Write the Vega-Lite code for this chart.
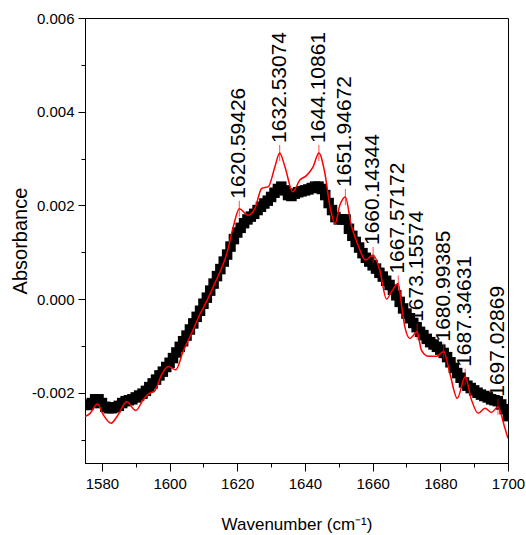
{
  "$schema": "https://vega.github.io/schema/vega-lite/v6.json",
  "width": 423,
  "height": 445,
  "autosize": "none",
  "padding": {"left": 85, "top": 18, "right": 18, "bottom": 72},
  "background": "white",
  "config": {
    "view": {"stroke": "black", "strokeWidth": 1},
    "axis": {"grid": false, "domainColor": "black", "tickColor": "black", "labelColor": "black", "titleColor": "black", "labelFont": "Liberation Sans", "titleFont": "Liberation Sans", "titleFontWeight": "normal", "labelFontSize": 15, "tickWidth": 1, "domainWidth": 1}
  },
  "datasets": {
    "black": [
      {"w": 1575, "a": -0.00226}, {"w": 1576, "a": -0.00226}, {"w": 1577, "a": -0.00222}, {"w": 1578, "a": -0.00214},
      {"w": 1579, "a": -0.00214}, {"w": 1580, "a": -0.00222}, {"w": 1581, "a": -0.0023}, {"w": 1582, "a": -0.00233},
      {"w": 1583, "a": -0.00233}, {"w": 1584, "a": -0.00231}, {"w": 1585, "a": -0.00228}, {"w": 1586, "a": -0.00222},
      {"w": 1587, "a": -0.00218}, {"w": 1588, "a": -0.00216}, {"w": 1589, "a": -0.00214}, {"w": 1590, "a": -0.0021},
      {"w": 1591, "a": -0.00206}, {"w": 1592, "a": -0.00202}, {"w": 1593, "a": -0.00196}, {"w": 1594, "a": -0.00188},
      {"w": 1595, "a": -0.0018}, {"w": 1596, "a": -0.00172}, {"w": 1597, "a": -0.00163}, {"w": 1598, "a": -0.00155},
      {"w": 1599, "a": -0.00145}, {"w": 1600, "a": -0.00136}, {"w": 1601, "a": -0.00126}, {"w": 1602, "a": -0.00114},
      {"w": 1603, "a": -0.00102}, {"w": 1604, "a": -0.0009}, {"w": 1605, "a": -0.00078}, {"w": 1606, "a": -0.00065},
      {"w": 1607, "a": -0.00052}, {"w": 1608, "a": -0.00038}, {"w": 1609, "a": -0.00025}, {"w": 1610, "a": -0.0001},
      {"w": 1611, "a": 0.00003}, {"w": 1612, "a": 0.00018}, {"w": 1613, "a": 0.00033}, {"w": 1614, "a": 0.00049},
      {"w": 1615, "a": 0.00064}, {"w": 1616, "a": 0.0008}, {"w": 1617, "a": 0.00095}, {"w": 1618, "a": 0.00112},
      {"w": 1619, "a": 0.00128}, {"w": 1620, "a": 0.00142}, {"w": 1621, "a": 0.00152}, {"w": 1622, "a": 0.00162},
      {"w": 1623, "a": 0.0017}, {"w": 1624, "a": 0.00176}, {"w": 1625, "a": 0.00182}, {"w": 1626, "a": 0.0019},
      {"w": 1627, "a": 0.00197}, {"w": 1628, "a": 0.00204}, {"w": 1629, "a": 0.0021}, {"w": 1630, "a": 0.00218},
      {"w": 1631, "a": 0.00227}, {"w": 1632, "a": 0.00235}, {"w": 1633, "a": 0.0024}, {"w": 1634, "a": 0.00232},
      {"w": 1635, "a": 0.00222}, {"w": 1636, "a": 0.0022}, {"w": 1637, "a": 0.00225}, {"w": 1638, "a": 0.00228},
      {"w": 1639, "a": 0.0023}, {"w": 1640, "a": 0.00232}, {"w": 1641, "a": 0.00234}, {"w": 1642, "a": 0.00237},
      {"w": 1643, "a": 0.0024}, {"w": 1644, "a": 0.0024}, {"w": 1645, "a": 0.00235}, {"w": 1646, "a": 0.00222},
      {"w": 1647, "a": 0.00205}, {"w": 1648, "a": 0.0019}, {"w": 1649, "a": 0.00175}, {"w": 1650, "a": 0.0017},
      {"w": 1651, "a": 0.0017}, {"w": 1652, "a": 0.0017}, {"w": 1653, "a": 0.0015}, {"w": 1654, "a": 0.00135},
      {"w": 1655, "a": 0.00122}, {"w": 1656, "a": 0.0011}, {"w": 1657, "a": 0.00098}, {"w": 1658, "a": 0.00088},
      {"w": 1659, "a": 0.0008}, {"w": 1660, "a": 0.00072}, {"w": 1661, "a": 0.00065}, {"w": 1662, "a": 0.00056},
      {"w": 1663, "a": 0.00048}, {"w": 1664, "a": 0.00039}, {"w": 1665, "a": 0.0003}, {"w": 1666, "a": 0.0002},
      {"w": 1667, "a": 0.00008}, {"w": 1668, "a": -0.00006}, {"w": 1669, "a": -0.0002}, {"w": 1670, "a": -0.00031},
      {"w": 1671, "a": -0.00041}, {"w": 1672, "a": -0.00051}, {"w": 1673, "a": -0.0006}, {"w": 1674, "a": -0.0007},
      {"w": 1675, "a": -0.00077}, {"w": 1676, "a": -0.00085}, {"w": 1677, "a": -0.00092}, {"w": 1678, "a": -0.00097},
      {"w": 1679, "a": -0.00102}, {"w": 1680, "a": -0.00108}, {"w": 1681, "a": -0.00115}, {"w": 1682, "a": -0.00124},
      {"w": 1683, "a": -0.00135}, {"w": 1684, "a": -0.00147}, {"w": 1685, "a": -0.00158}, {"w": 1686, "a": -0.00168},
      {"w": 1687, "a": -0.00178}, {"w": 1688, "a": -0.00185}, {"w": 1689, "a": -0.0019}, {"w": 1690, "a": -0.00195},
      {"w": 1691, "a": -0.002}, {"w": 1692, "a": -0.00204}, {"w": 1693, "a": -0.00207}, {"w": 1694, "a": -0.0021},
      {"w": 1695, "a": -0.00214}, {"w": 1696, "a": -0.00216}, {"w": 1697, "a": -0.00218}, {"w": 1698, "a": -0.00225},
      {"w": 1699, "a": -0.00235}, {"w": 1700, "a": -0.0025}
    ],
    "red": [
      {"w": 1575, "a": -0.00251}, {"w": 1576.5, "a": -0.00244}, {"w": 1578.7, "a": -0.00224}, {"w": 1580.4, "a": -0.00247},
      {"w": 1582.7, "a": -0.00265}, {"w": 1584.8, "a": -0.00247}, {"w": 1587.3, "a": -0.00219}, {"w": 1590, "a": -0.00238},
      {"w": 1592.2, "a": -0.00215}, {"w": 1593.7, "a": -0.00203}, {"w": 1595.7, "a": -0.00195}, {"w": 1597.6, "a": -0.00162},
      {"w": 1599.6, "a": -0.00144}, {"w": 1601.8, "a": -0.00151}, {"w": 1604, "a": -0.00112}, {"w": 1606.5, "a": -0.00073},
      {"w": 1609, "a": -0.00032}, {"w": 1611, "a": -0.00004}, {"w": 1612.9, "a": 0.00026}, {"w": 1615, "a": 0.0006},
      {"w": 1616.9, "a": 0.00097}, {"w": 1618.8, "a": 0.00154}, {"w": 1620.59, "a": 0.00193}, {"w": 1623.2, "a": 0.00179},
      {"w": 1625.2, "a": 0.00193}, {"w": 1627.2, "a": 0.00236}, {"w": 1629.2, "a": 0.0024}, {"w": 1631.1, "a": 0.00282},
      {"w": 1632.53, "a": 0.00312}, {"w": 1634.1, "a": 0.00282}, {"w": 1636.4, "a": 0.00229}, {"w": 1638.5, "a": 0.00254},
      {"w": 1640.5, "a": 0.00264}, {"w": 1642.4, "a": 0.00282}, {"w": 1644.11, "a": 0.00312}, {"w": 1645.9, "a": 0.00268},
      {"w": 1647.4, "a": 0.00197}, {"w": 1648.9, "a": 0.00161}, {"w": 1650.3, "a": 0.002}, {"w": 1651.95, "a": 0.00218},
      {"w": 1653.6, "a": 0.0016}, {"w": 1655.7, "a": 0.00115}, {"w": 1657.9, "a": 0.00083}, {"w": 1660.14, "a": 0.00094},
      {"w": 1662.1, "a": 0.00062}, {"w": 1664.1, "a": 0.0}, {"w": 1665.6, "a": 0.00016}, {"w": 1667.57, "a": 0.00033},
      {"w": 1668.6, "a": -0.00016}, {"w": 1669.5, "a": -0.00059}, {"w": 1671, "a": -0.00084}, {"w": 1673.16, "a": -0.0007},
      {"w": 1674.4, "a": -0.00109}, {"w": 1676.4, "a": -0.00122}, {"w": 1678.9, "a": -0.00122}, {"w": 1680.99, "a": -0.00112},
      {"w": 1682.8, "a": -0.00158}, {"w": 1685, "a": -0.00212}, {"w": 1687.35, "a": -0.00166}, {"w": 1689.2, "a": -0.00215},
      {"w": 1691.2, "a": -0.00244}, {"w": 1693.2, "a": -0.00233}, {"w": 1695.1, "a": -0.00242}, {"w": 1697.03, "a": -0.0023},
      {"w": 1699.1, "a": -0.00276}, {"w": 1700, "a": -0.00297}
    ],
    "peaks": [
      {"w": 1620.59426, "a": 0.00193, "label": "1620.59426"},
      {"w": 1632.53074, "a": 0.00312, "label": "1632.53074"},
      {"w": 1644.10861, "a": 0.00312, "label": "1644.10861"},
      {"w": 1651.94672, "a": 0.00218, "label": "1651.94672"},
      {"w": 1660.14344, "a": 0.00094, "label": "1660.14344"},
      {"w": 1667.57172, "a": 0.00033, "label": "1667.57172"},
      {"w": 1673.15574, "a": -0.0007, "label": "1673.15574"},
      {"w": 1680.99385, "a": -0.00112, "label": "1680.99385"},
      {"w": 1687.34631, "a": -0.00166, "label": "1687.34631"},
      {"w": 1697.02869, "a": -0.0023, "label": "1697.02869"}
    ]
  },
  "encoding": {
    "x": {
      "field": "w", "type": "quantitative",
      "scale": {"domain": [1575, 1700], "nice": false, "zero": false},
      "axis": {
        "title": "Wavenumber (cm⁻¹)",
        "titleFontSize": 17,
        "titleBaseline": "alphabetic",
        "titleY": 66,
        "values": [1580, 1590, 1600, 1610, 1620, 1630, 1640, 1650, 1660, 1670, 1680, 1690, 1700],
        "labelExpr": "datum.value % 20 == 0 ? format(datum.value, 'd') : ''",
        "tickSize": {"condition": {"test": "datum.value % 20 == 0", "value": 8}, "value": 4},
        "labelPadding": 5,
        "labelFlush": false
      }
    },
    "y": {
      "field": "a", "type": "quantitative",
      "scale": {"domain": [-0.0035, 0.006], "nice": false, "zero": false},
      "axis": {
        "title": "Absorbance",
        "titleFontSize": 20,
        "titleX": -65,
        "titleY": 222.5,
        "titleBaseline": "middle",
        "titleAlign": "center",
        "titleAngle": -90,
        "values": [-0.003, -0.002, -0.001, 0, 0.001, 0.002, 0.003, 0.004, 0.005, 0.006],
        "labelExpr": "abs(round(datum.value * 1000)) % 2 == 0 ? (datum.value < 0 ? '-' : '') + format(abs(datum.value), '.3f') : ''",
        "tickSize": {"condition": {"test": "abs(round(datum.value * 1000)) % 2 == 0", "value": 7}, "value": 4},
        "labelPadding": 4,
        "labelFlush": false
      }
    }
  },
  "layer": [
    {
      "data": {"name": "black"},
      "mark": {"type": "point", "shape": "square", "filled": true, "color": "black", "opacity": 1, "size": 110, "clip": true}
    },
    {
      "data": {"name": "red"},
      "mark": {"type": "line", "color": "#ff0000", "strokeWidth": 1.5, "interpolate": "monotone", "clip": true}
    },
    {
      "data": {"name": "peaks"},
      "mark": {"type": "tick", "orient": "vertical", "color": "#ff0000", "size": 16, "thickness": 1}
    },
    {
      "data": {"name": "peaks"},
      "mark": {"type": "text", "angle": 270, "align": "left", "baseline": "middle", "dx": 10, "font": "Liberation Sans", "fontSize": 21, "color": "black"},
      "encoding": {"text": {"field": "label"}}
    }
  ]
}
